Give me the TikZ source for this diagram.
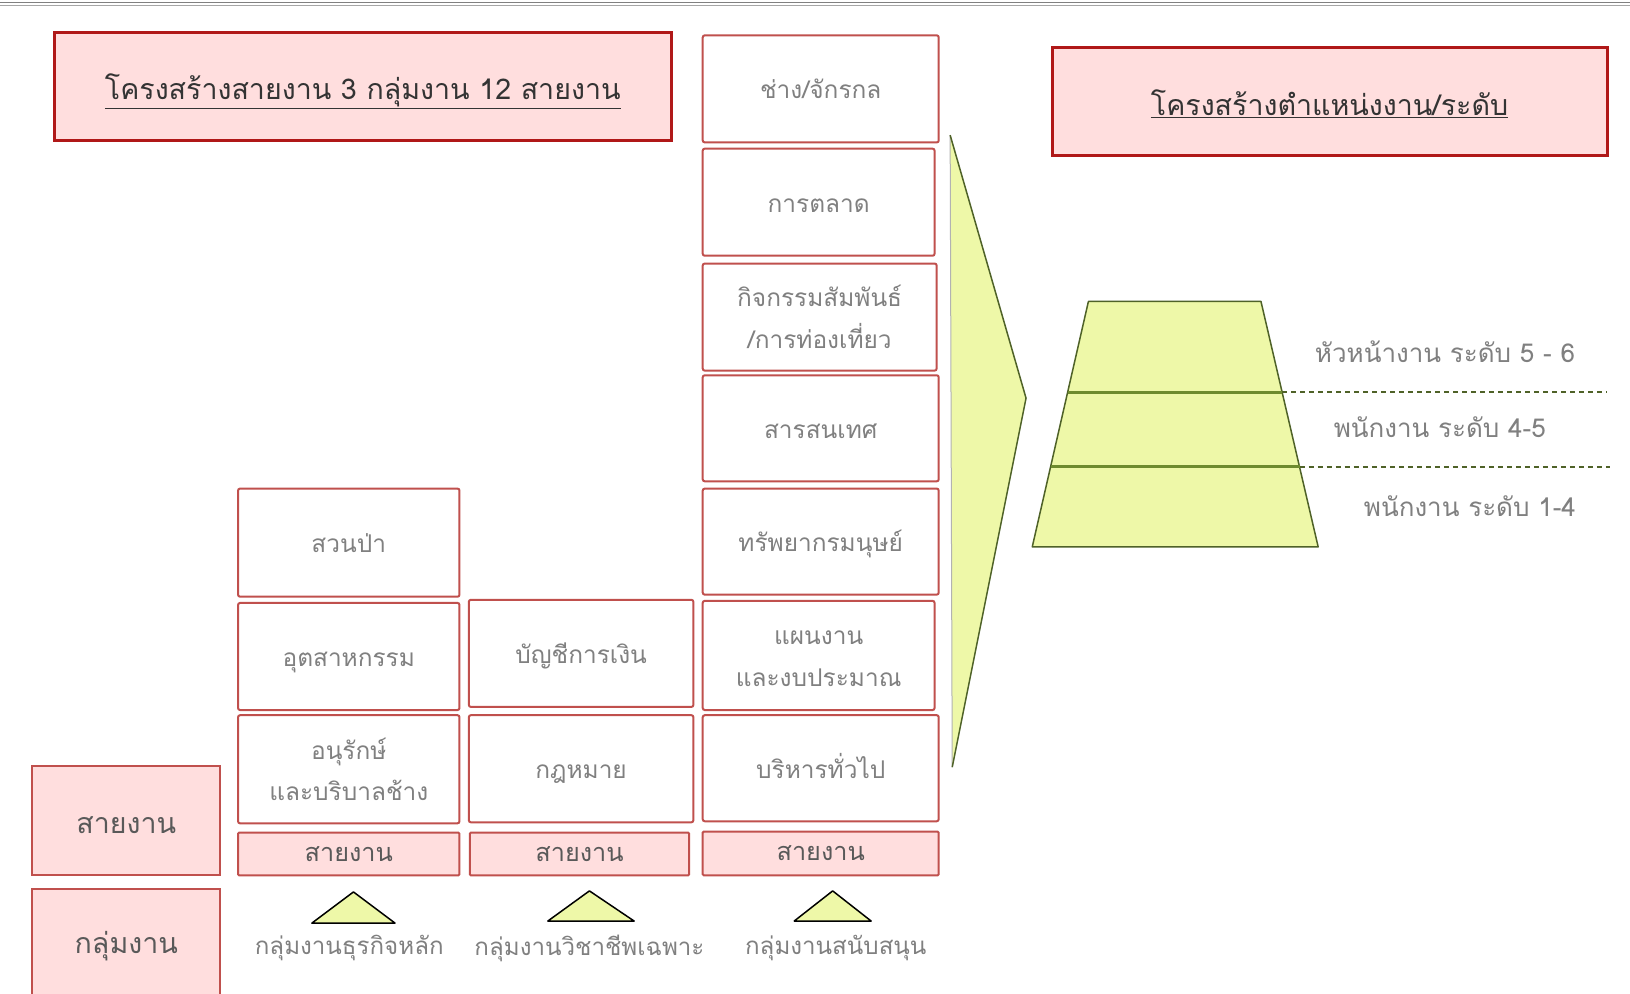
\documentclass[tikz,border=0pt]{standalone}
\usepackage{fontspec}
\newfontfamily\thai[Script=Thai]{Loma}
\definecolor{pinkfill}{HTML}{FFDEDE}
\definecolor{boxred}{HTML}{C0504D}
\definecolor{darkred}{HTML}{B01818}
\definecolor{txtgray}{HTML}{808080}
\definecolor{limefill}{HTML}{EEF8A8}
\definecolor{olive}{HTML}{4F6228}
\definecolor{midgreen}{HTML}{6E8B2E}
\tikzset{
  cell/.style={draw=boxred, line width=2pt, rounded corners=2pt, fill=white, text=txtgray, align=center, font=\thai\fontsize{23.5}{40}\selectfont, inner sep=0pt},
  sline/.style={text height=19pt, text depth=0pt},
  lanebox/.style={draw=boxred, line width=2pt, rounded corners=1pt, fill=pinkfill, text=black!65, font=\thai\fontsize{24.3}{28}\selectfont, inner sep=0pt},
  bigbox/.style={draw=boxred, line width=2pt, fill=pinkfill, inner sep=0pt},
  bigtext/.style={text=black!65, font=\thai\fontsize{27.5}{32}\selectfont, inner sep=0pt},
  titlebox/.style={draw=darkred, line width=3pt, fill=pinkfill, inner sep=0pt},
  titletext/.style={text=black!80, font=\thai\fontsize{27.5}{32}\selectfont, inner sep=0pt},
  grouptri/.style={draw=black, line width=1.5pt, fill=limefill, line join=round},
  grouplbl/.style={text=txtgray, font=\thai\fontsize{23.2}{26}\selectfont, inner sep=0pt},
  levellbl/.style={text=txtgray, font=\thai\fontsize{25}{28}\selectfont, inner sep=0pt},
  leveldash/.style={draw=olive, dash pattern=on 5pt off 4pt, line width=1.4pt}
}
\begin{document}
\begin{tikzpicture}[x=1pt,y=-1pt,scale=1.0395,transform shape]
\clip (0,0) rectangle (1568,955.3);
\fill[white] (0,0) rectangle (1568,955.3);
% top rule
\draw[gray, line width=1pt] (0,2.5) -- (1568,2.5);
\draw[gray!70, line width=1pt] (0,5) -- (1568,5);
% titles
\node[titlebox, minimum width=594, minimum height=104] (t1) at (349,83) {};
\node[titletext] (t1t) at (349,88) {\underline{โครงสร้างสายงาน 3 กลุ่มงาน 12 สายงาน}};
\node[titlebox, minimum width=534, minimum height=104] (t2) at (1279,98) {};
\node[titletext] (t2t) at (1279,100) {\underline{โครงสร้างตำแหน่งงาน/ระดับ}};
% right column
\node[cell, sline, minimum width=227, minimum height=103] (r1) at (789.5,85.5) {ช่าง/จักรกล};
\node[cell, sline, minimum width=223, minimum height=103] (r2) at (787.5,194.5) {การตลาด};
\node[cell, minimum width=225, minimum height=103] (r3) at (788.5,305) {กิจกรรมสัมพันธ์\\/การท่องเที่ยว};
\node[cell, sline, minimum width=227, minimum height=102] (r4) at (789.5,412) {สารสนเทศ};
\node[cell, sline, minimum width=227, minimum height=102] (r5) at (789.5,521) {ทรัพยากรมนุษย์};
\node[cell, minimum width=223, minimum height=105] (r6) at (787.5,630.5) {\rule{0pt}{20pt}แผนงาน\\และงบประมาณ};
\node[cell, sline, minimum width=227, minimum height=102] (r7) at (789.5,739) {บริหารทั่วไป};
\node[lanebox, minimum width=227, minimum height=42] (r8) at (789.5,821) {สายงาน};
% middle column
\node[cell, sline, minimum width=216, minimum height=103] (m1) at (559,628.5) {บัญชีการเงิน};
\node[cell, sline, minimum width=216, minimum height=103] (m2) at (559,739.5) {กฎหมาย};
\node[lanebox, minimum width=211, minimum height=41] (m3) at (557.5,821.5) {สายงาน};
% left column
\node[cell, sline, minimum width=213, minimum height=104] (l1) at (335.5,522) {สวนป่า};
\node[cell, sline, minimum width=213, minimum height=103] (l2) at (335.5,631.5) {อุตสาหกรรม};
\node[cell, minimum width=213, minimum height=104] (l3) at (335.5,740) {อนุรักษ์\\และบริบาลช้าง};
\node[lanebox, minimum width=213, minimum height=41] (l4) at (335.5,821.5) {สายงาน};
% left labels
\node[bigbox, minimum width=181, minimum height=105] (lab1) at (121.5,789.5) {};
\node[bigtext] (lab1t) at (121.5,794) {สายงาน};
\node[bigbox, minimum width=181, minimum height=150, anchor=north] (lab2) at (121.5,854) {};
\node[bigtext] (lab2t) at (121.5,910) {กลุ่มงาน};
% group triangles
\draw[grouptri] (300,888) -- (340,858) -- (380,888) -- cycle;
\draw[grouptri] (527,886) -- (567,857) -- (610,886) -- cycle;
\draw[grouptri] (764,886) -- (801,857) -- (838,886) -- cycle;
\node[grouplbl] (g1) at (336,912) {กลุ่มงานธุรกิจหลัก};
\node[grouplbl] (g2) at (567,912) {กลุ่มงานวิชาชีพเฉพาะ};
\node[grouplbl] (g3) at (804,912) {กลุ่มงานสนับสนุน};
% big chevron
\fill[limefill] (914,130) -- (987,383) -- (916,738) -- cycle;
\draw[gray!60, line width=1pt] (914,130) -- (916,738);
\draw[olive, line width=1.5pt, line join=round] (914,130) -- (987,383) -- (916,738);
% trapezoid
\filldraw[fill=limefill, draw=olive, line width=1.5pt, line join=round] (1047,290) -- (1213,290) -- (1268,526) -- (993,526) -- cycle;
\coordinate (a1) at (1027,377);
\coordinate (b1) at (1233,377);
\coordinate (a2) at (1011,449);
\coordinate (b2) at (1250,449);
\coordinate (e1) at (1545,377);
\coordinate (e2) at (1548,449);
\draw[midgreen, line width=3pt] (a1) -- (b1);
\draw[midgreen, line width=3pt] (a2) -- (b2);
\draw[leveldash] (b1) -- (e1);
\draw[leveldash] (b2) -- (e2);
\node[levellbl] (v1) at (1390,338) {หัวหน้างาน ระดับ 5 - 6};
\node[levellbl] (v2) at (1385,411) {พนักงาน ระดับ 4-5};
\node[levellbl] (v3) at (1414,487) {พนักงาน ระดับ 1-4};
\end{tikzpicture}
\end{document}
